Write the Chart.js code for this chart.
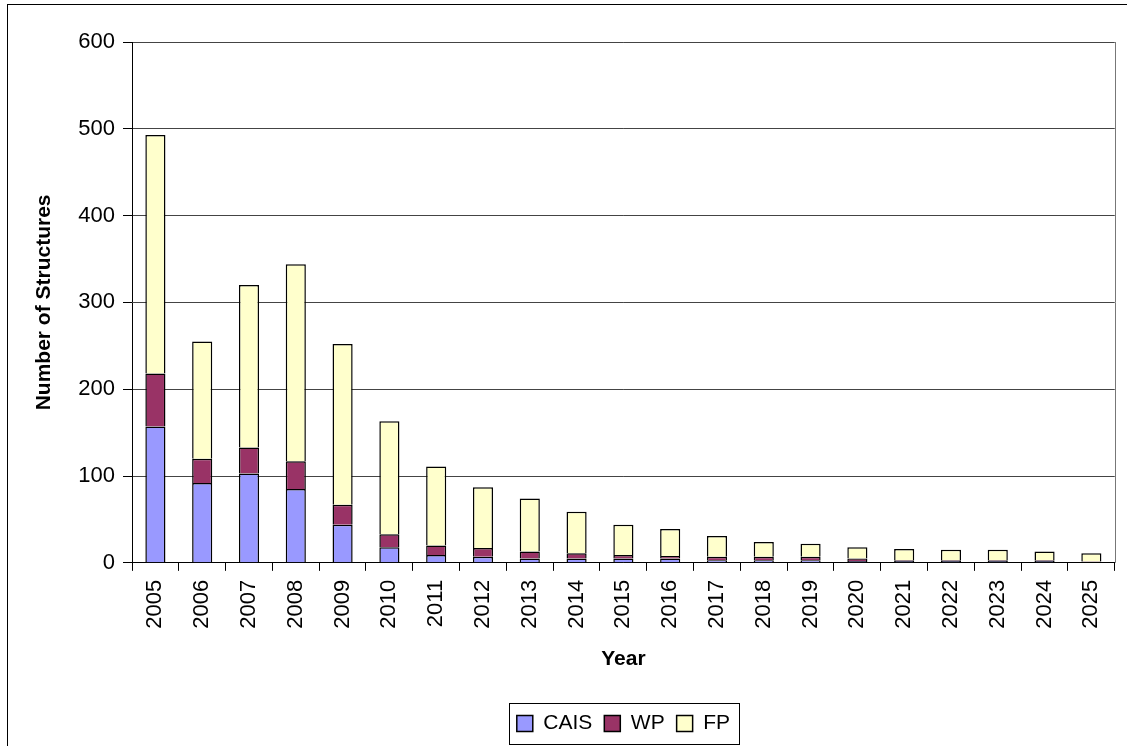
<!DOCTYPE html>
<html lang="en">
<head>
    <meta charset="UTF-8">
    <title>Number of Structures</title>
    <style>
        body {
            margin: 0;
            padding: 0;
            background-color: #fff;
        }

        #wrap {
            position: relative;
            width: 1127px;
            height: 746px;
        }
    </style>
</head>
<body>
    <div id="wrap"><canvas id="structChart" width="1127" height="746"></canvas></div>

    <script src="https://cdn.jsdelivr.net/npm/chart.js"></script>
    <script>
        const years = ['2005', '2006', '2007', '2008', '2009', '2010', '2011', '2012', '2013', '2014', '2015',
            '2016', '2017', '2018', '2019', '2020', '2021', '2022', '2023', '2024', '2025'];
        const cais = [157, 92, 103, 85, 44, 18, 9, 7, 5, 5, 5, 5, 3, 3, 3, 2, 2, 2, 2, 2, 1];
        const wp = [61, 28, 30, 32, 23, 15, 11, 10, 8, 6, 4, 3, 4, 4, 4, 3, 1, 1, 1, 1, 0.5];
        const fp = [275, 135, 187, 227, 185, 130, 91, 70, 61, 48, 35, 31, 24, 17, 15, 13, 13, 12, 12, 10, 9.5];
        const yTicks = [0, 100, 200, 300, 400, 500, 600];

        const font = "'Liberation Sans', Arial, sans-serif";

        // outer frame, right edge of plot, legend box
        const framePlugin = {
            id: 'frame',
            afterDraw(chart) {
                const ctx = chart.ctx;
                const a = chart.chartArea;
                ctx.save();
                ctx.strokeStyle = '#000';
                ctx.lineWidth = 1;
                ctx.strokeRect(7.5, 4.5, 1140, 760);
                ctx.strokeStyle = '#777';
                ctx.beginPath();
                ctx.moveTo(Math.round(a.right) + 0.5, a.top);
                ctx.lineTo(Math.round(a.right) + 0.5, a.bottom);
                ctx.stroke();
                const boxes = chart.legend.legendHitBoxes;
                if (boxes && boxes.length) {
                    const l = boxes[0].left - 8;
                    const last = boxes[boxes.length - 1];
                    const r = last.left + last.width + 9;
                    const t = boxes[0].top - 10;
                    const b = boxes[0].top + boxes[0].height + 10;
                    ctx.strokeStyle = '#000';
                    ctx.strokeRect(Math.round(l) + 0.5, Math.round(t) + 0.5, Math.round(r - l), Math.round(b - t));
                }
                ctx.restore();
            }
        };

        const ctx = document.getElementById('structChart').getContext('2d');
        new Chart(ctx, {
            type: 'bar',
            data: {
                labels: years,
                datasets: [
                    { label: 'CAIS', data: cais, backgroundColor: '#9999FF' },
                    { label: 'WP', data: wp, backgroundColor: '#993366' },
                    { label: 'FP', data: fp, backgroundColor: '#FFFFCC' }
                ].map(d => Object.assign(d, {
                    borderColor: '#000',
                    borderWidth: 1.5,
                    categoryPercentage: 1,
                    barPercentage: 0.43
                }))
            },
            plugins: [framePlugin],
            options: {
                responsive: false,
                animation: false,
                layout: { padding: { left: 30, top: 42, right: 10, bottom: 2 } },
                plugins: {
                    tooltip: { enabled: false },
                    legend: {
                        position: 'bottom',
                        fullSize: false,
                        labels: {
                            color: '#000',
                            font: { family: font, size: 21 },
                            boxWidth: 16,
                            boxHeight: 16,
                            padding: 12,
                            generateLabels(chart) {
                                return chart.data.datasets.map((d, i) => ({
                                    text: d.label,
                                    fillStyle: d.backgroundColor,
                                    strokeStyle: '#000',
                                    lineWidth: 1.5,
                                    datasetIndex: i
                                }));
                            }
                        }
                    }
                },
                scales: {
                    x: {
                        stacked: true,
                        grid: {
                            drawOnChartArea: false,
                            drawTicks: true,
                            tickLength: 8,
                            tickColor: '#000',
                            offset: true
                        },
                        border: { color: '#000', width: 1 },
                        ticks: {
                            color: '#000',
                            font: { family: font, size: 22 },
                            minRotation: 90,
                            maxRotation: 90,
                            padding: 9,
                            autoSkip: false
                        },
                        title: {
                            display: true,
                            text: 'Year',
                            color: '#000',
                            font: { family: font, size: 21, weight: 'bold' },
                            padding: { top: 9, bottom: 29 }
                        }
                    },
                    y: {
                        stacked: true,
                        min: 0,
                        max: 600,
                        afterBuildTicks(scale) {
                            scale.ticks = yTicks.map(v => ({ value: v }));
                        },
                        afterFit(scale) {
                            scale.width = 102;
                        },
                        grid: {
                            color: '#444',
                            lineWidth: 1,
                            tickLength: 9,
                            tickColor: '#000'
                        },
                        border: { color: '#000', width: 1 },
                        ticks: {
                            color: '#000',
                            font: { family: font, size: 22 },
                            padding: 8
                        },
                        title: {
                            display: true,
                            text: 'Number of Structures',
                            color: '#000',
                            font: { family: font, size: 21, weight: 'bold' },
                            padding: 2
                        }
                    }
                }
            }
        });
    </script>
</body>
</html>
